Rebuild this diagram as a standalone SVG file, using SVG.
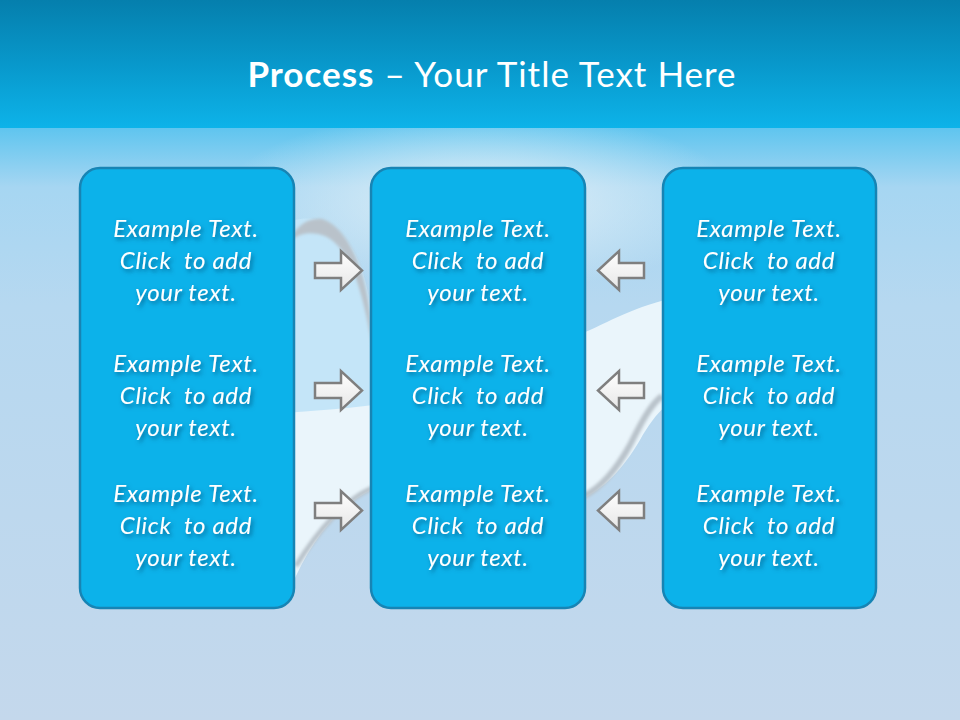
<svg xmlns="http://www.w3.org/2000/svg" width="960" height="720" viewBox="0 0 960 720">
  <defs>
    <linearGradient id="hdr" x1="0" y1="0" x2="0" y2="1">
      <stop offset="0" stop-color="#057fad"/>
      <stop offset="0.5" stop-color="#0898cb"/>
      <stop offset="1" stop-color="#0db3e9"/>
    </linearGradient>
    <linearGradient id="bg" x1="0" y1="0" x2="0" y2="1">
      <stop offset="0" stop-color="#5fc5ef"/>
      <stop offset="0.1" stop-color="#a6d6f2"/>
      <stop offset="0.3" stop-color="#b6d8f0"/>
      <stop offset="1" stop-color="#c4d8ec"/>
    </linearGradient>
    <radialGradient id="glow" cx="480" cy="200" r="260" gradientUnits="userSpaceOnUse" gradientTransform="translate(0,200) scale(1,0.35) translate(0,-200)">
      <stop offset="0" stop-color="#e4f1f8" stop-opacity="0.95"/>
      <stop offset="1" stop-color="#e4f1f8" stop-opacity="0"/>
    </radialGradient>
    <linearGradient id="arrowFill" x1="0" y1="0" x2="0" y2="1">
      <stop offset="0" stop-color="#ffffff"/>
      <stop offset="1" stop-color="#e6e6e6"/>
    </linearGradient>
    <filter id="tshadow" x="-10%" y="-30%" width="130%" height="170%">
      <feDropShadow dx="2" dy="2.5" stdDeviation="2" flood-color="#0b4c74" flood-opacity="0.7"/>
    </filter>
    <filter id="soft" x="-10%" y="-10%" width="120%" height="120%">
      <feGaussianBlur stdDeviation="1.5"/>
    </filter>
  </defs>
  <style>
    .box { fill: #0cb2ea; stroke: #1784b4; stroke-width: 2.5; }
    .txt { font-family: Lato, "Open Sans", "Liberation Sans", sans-serif; font-style: italic; font-size: 24px; letter-spacing: 0.7px; fill: #ffffff; text-anchor: middle; white-space: pre; }
    .title { font-family: Lato, "Open Sans", "Liberation Sans", sans-serif; font-size: 35px; letter-spacing: 1px; fill: #ffffff; text-anchor: middle; }
    .arrow { fill: url(#arrowFill); stroke: #7f7f7f; stroke-width: 2.5; stroke-linejoin: miter; }
  </style>

  <!-- background -->
  <rect x="0" y="128" width="960" height="592" fill="url(#bg)"/>
  <rect x="0" y="128" width="960" height="300" fill="url(#glow)"/>
  <!-- light blue round shape -->
  <path d="M 250 260 C 270 220 300 215 320 220 C 360 235 372 290 372 340 L 380 410 C 340 410 300 412 250 414 Z" fill="#c4e5f8"/>
  <!-- grey swoosh edge -->
  <path d="M 292 236 C 300 222 312 218 322 219 C 345 226 362 262 368 300 C 371 320 372 335 372 345 C 368 322 362 292 352 268 C 342 246 330 236 318 234 C 308 232 298 234 292 240 Z" fill="#b9c2ca" filter="url(#soft)"/>
  <!-- white wave -->
  <path d="M 250 416 C 290 412 340 410 380 404 C 470 390 540 350 590 330 C 620 316 645 302 700 292 L 700 392 C 672 394 656 412 640 440 C 622 470 605 488 580 500 C 540 512 420 470 371 490 C 340 505 310 540 290 590 L 250 590 Z" fill="#eaf5fb"/>
  <!-- grey shadows under wave -->
  <path d="M 662 396 C 650 405 640 425 630 445 C 615 472 600 488 584 496" fill="none" stroke="#b9c3cb" stroke-width="6" filter="url(#soft)"/>
  <path d="M 372 488 C 345 500 318 530 296 566" fill="none" stroke="#b9c3cb" stroke-width="5" filter="url(#soft)"/>

  <!-- header -->
  <rect x="0" y="0" width="960" height="128" fill="url(#hdr)"/>
  <g id="title">
    <text class="title" x="492" y="87"><tspan font-weight="bold">Process</tspan> – Your Title Text Here</text>
  </g>

  <!-- connectors -->
  <g id="connectors">
    <polygon class="arrow" points="315,263 341,263 341,251 362,270.5 341,290 341,278 315,278"/>
    <polygon class="arrow" points="315,383 341,383 341,371 362,390.5 341,410 341,398 315,398"/>
    <polygon class="arrow" points="315,503 341,503 341,491 362,510.5 341,530 341,518 315,518"/>
    <polygon class="arrow" points="644,263 619,263 619,251 598,270.5 619,290 619,278 644,278"/>
    <polygon class="arrow" points="644,383 619,383 619,371 598,390.5 619,410 619,398 644,398"/>
    <polygon class="arrow" points="644,503 619,503 619,491 598,510.5 619,530 619,518 644,518"/>
  </g>

  <!-- nodes -->
  <g id="box-left">
    <rect class="box" x="80" y="168" width="214" height="440" rx="20" ry="20"/>
    <g filter="url(#tshadow)">
      <text class="txt" x="186" y="237">Example Text.</text>
      <text class="txt" x="186" y="269">Click  to add</text>
      <text class="txt" x="186" y="301">your text.</text>
      <text class="txt" x="186" y="372">Example Text.</text>
      <text class="txt" x="186" y="404">Click  to add</text>
      <text class="txt" x="186" y="436">your text.</text>
      <text class="txt" x="186" y="502">Example Text.</text>
      <text class="txt" x="186" y="534">Click  to add</text>
      <text class="txt" x="186" y="566">your text.</text>
    </g>
  </g>
  <g id="box-middle">
    <rect class="box" x="371" y="168" width="214" height="440" rx="20" ry="20"/>
    <g filter="url(#tshadow)">
      <text class="txt" x="478" y="237">Example Text.</text>
      <text class="txt" x="478" y="269">Click  to add</text>
      <text class="txt" x="478" y="301">your text.</text>
      <text class="txt" x="478" y="372">Example Text.</text>
      <text class="txt" x="478" y="404">Click  to add</text>
      <text class="txt" x="478" y="436">your text.</text>
      <text class="txt" x="478" y="502">Example Text.</text>
      <text class="txt" x="478" y="534">Click  to add</text>
      <text class="txt" x="478" y="566">your text.</text>
    </g>
  </g>
  <g id="box-right">
    <rect class="box" x="663" y="168" width="213" height="440" rx="20" ry="20"/>
    <g filter="url(#tshadow)">
      <text class="txt" x="769" y="237">Example Text.</text>
      <text class="txt" x="769" y="269">Click  to add</text>
      <text class="txt" x="769" y="301">your text.</text>
      <text class="txt" x="769" y="372">Example Text.</text>
      <text class="txt" x="769" y="404">Click  to add</text>
      <text class="txt" x="769" y="436">your text.</text>
      <text class="txt" x="769" y="502">Example Text.</text>
      <text class="txt" x="769" y="534">Click  to add</text>
      <text class="txt" x="769" y="566">your text.</text>
    </g>
  </g>
</svg>
